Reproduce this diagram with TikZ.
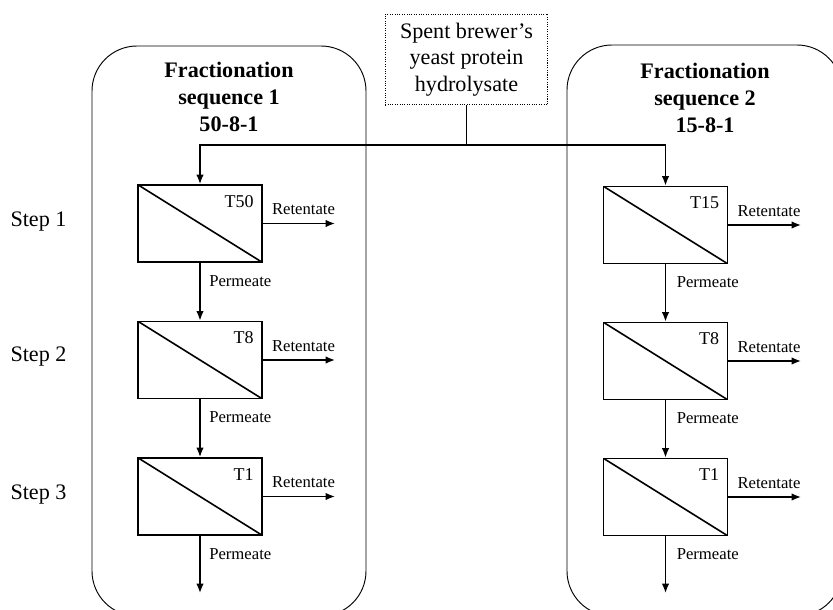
\documentclass[tikz,border=0pt]{standalone}
\usepackage{fontspec}
\setmainfont{Liberation Serif}
\usetikzlibrary{arrows.meta,positioning,calc}

\begin{document}
\begin{tikzpicture}[x=0.75pt, y=-0.75pt, >={Latex[length=7pt,width=5.5pt]},
    membrane/.style={draw, line width=1.2pt, minimum width=93pt, minimum height=58pt, inner sep=0pt,
        path picture={\draw[line width=1.2pt] (path picture bounding box.north west) -- (path picture bounding box.south east);}},
    flow/.style={->, line width=1pt},
    small/.style={font=\fontsize{12.5}{15}\selectfont, inner sep=0pt},
    tag/.style={font=\fontsize{13.5}{16}\selectfont, inner sep=0pt, anchor=north east},
    big/.style={font=\fontsize{16.6}{20}\selectfont, align=center}]
    \useasboundingbox (0,0) rectangle (833,610);

    % Sequence containers
    \draw[line width=0.7pt, rounded corners=33.75pt] (92,46) rectangle (366,616);
    \draw[line width=0.7pt, rounded corners=33.75pt] (567,45) rectangle (842,616);
    \node[big, font=\fontsize{16.6}{20}\selectfont\bfseries] (title1) at (229,97) {Fractionation\\sequence 1\\50-8-1};
    \node[big, font=\fontsize{16.6}{20}\selectfont\bfseries] (title2) at (705,98) {Fractionation\\sequence 2\\15-8-1};

    % Feed
    \node[big, draw, densely dotted, line width=0.8pt, minimum width=122pt, minimum height=68pt] (feed) at (466.5,59.5) {Spent brewer’s\\yeast protein\\hydrolysate};
    \coordinate (split) at (466.5,145);
    \draw[line width=1pt] (feed.south) -- (split);

    % Step labels
    \node[big] (step1) at (38.5,222) {Step 1};
    \node[big] (step2) at (38.5,357) {Step 2};
    \node[big] (step3) at (38.5,495) {Step 3};

    % Sequence 1
    \node[membrane] (m11) at (200,223.5) {};
    \node[membrane] (m12) at (200,360) {};
    \node[membrane] (m13) at (200,496.5) {};
    \node[tag] at ([shift={(-9,11)}]m11.north east) {T50};
    \node[tag] at ([shift={(-9,11)}]m12.north east) {T8};
    \node[tag] at ([shift={(-9,11)}]m13.north east) {T1};
    \draw[flow] (split) -| (m11.north);
    \draw[flow] (m11.south) -- (m12.north);
    \draw[flow] (m12.south) -- (m13.north);
    \coordinate (out1) at (200,593);
    \draw[flow] (m13.south) -- (out1);

    % Sequence 2
    \node[membrane] (m21) at (665.5,225) {};
    \node[membrane] (m22) at (665.5,361) {};
    \node[membrane] (m23) at (665.5,497) {};
    \node[tag] at ([shift={(-9,11)}]m21.north east) {T15};
    \node[tag] at ([shift={(-9,11)}]m22.north east) {T8};
    \node[tag] at ([shift={(-9,11)}]m23.north east) {T1};
    \draw[flow] (split) -| (m21.north);
    \draw[flow] (m21.south) -- (m22.north);
    \draw[flow] (m22.south) -- (m23.north);
    \coordinate (out2) at (665.5,593);
    \draw[flow] (m23.south) -- (out2);

    % Retentate outlets
    \coordinate (r11) at (335,223.5);
    \coordinate (r12) at (335,360);
    \coordinate (r13) at (335,496.5);
    \coordinate (r21) at (801,225);
    \coordinate (r22) at (801,361);
    \coordinate (r23) at (801,497);
    \draw[flow] (m11.east) -- (r11);
    \draw[flow] (m12.east) -- (r12);
    \draw[flow] (m13.east) -- (r13);
    \draw[flow] (m21.east) -- (r21);
    \draw[flow] (m22.east) -- (r22);
    \draw[flow] (m23.east) -- (r23);
    \node[small, anchor=west] at ([shift={(9,-14)}]m11.east) {Retentate};
    \node[small, anchor=west] at ([shift={(9,-14)}]m12.east) {Retentate};
    \node[small, anchor=west] at ([shift={(9,-14)}]m13.east) {Retentate};
    \node[small, anchor=west] at ([shift={(9,-14)}]m21.east) {Retentate};
    \node[small, anchor=west] at ([shift={(9,-14)}]m22.east) {Retentate};
    \node[small, anchor=west] at ([shift={(9,-14)}]m23.east) {Retentate};

    % Permeate labels
    \node[small, anchor=west] at ([shift={(9,18)}]m11.south) {Permeate};
    \node[small, anchor=west] at ([shift={(9,18)}]m12.south) {Permeate};
    \node[small, anchor=west] at ([shift={(9,18)}]m13.south) {Permeate};
    \node[small, anchor=west] at ([shift={(11,18)}]m21.south) {Permeate};
    \node[small, anchor=west] at ([shift={(11,18)}]m22.south) {Permeate};
    \node[small, anchor=west] at ([shift={(11,18)}]m23.south) {Permeate};
\end{tikzpicture}
\end{document}
